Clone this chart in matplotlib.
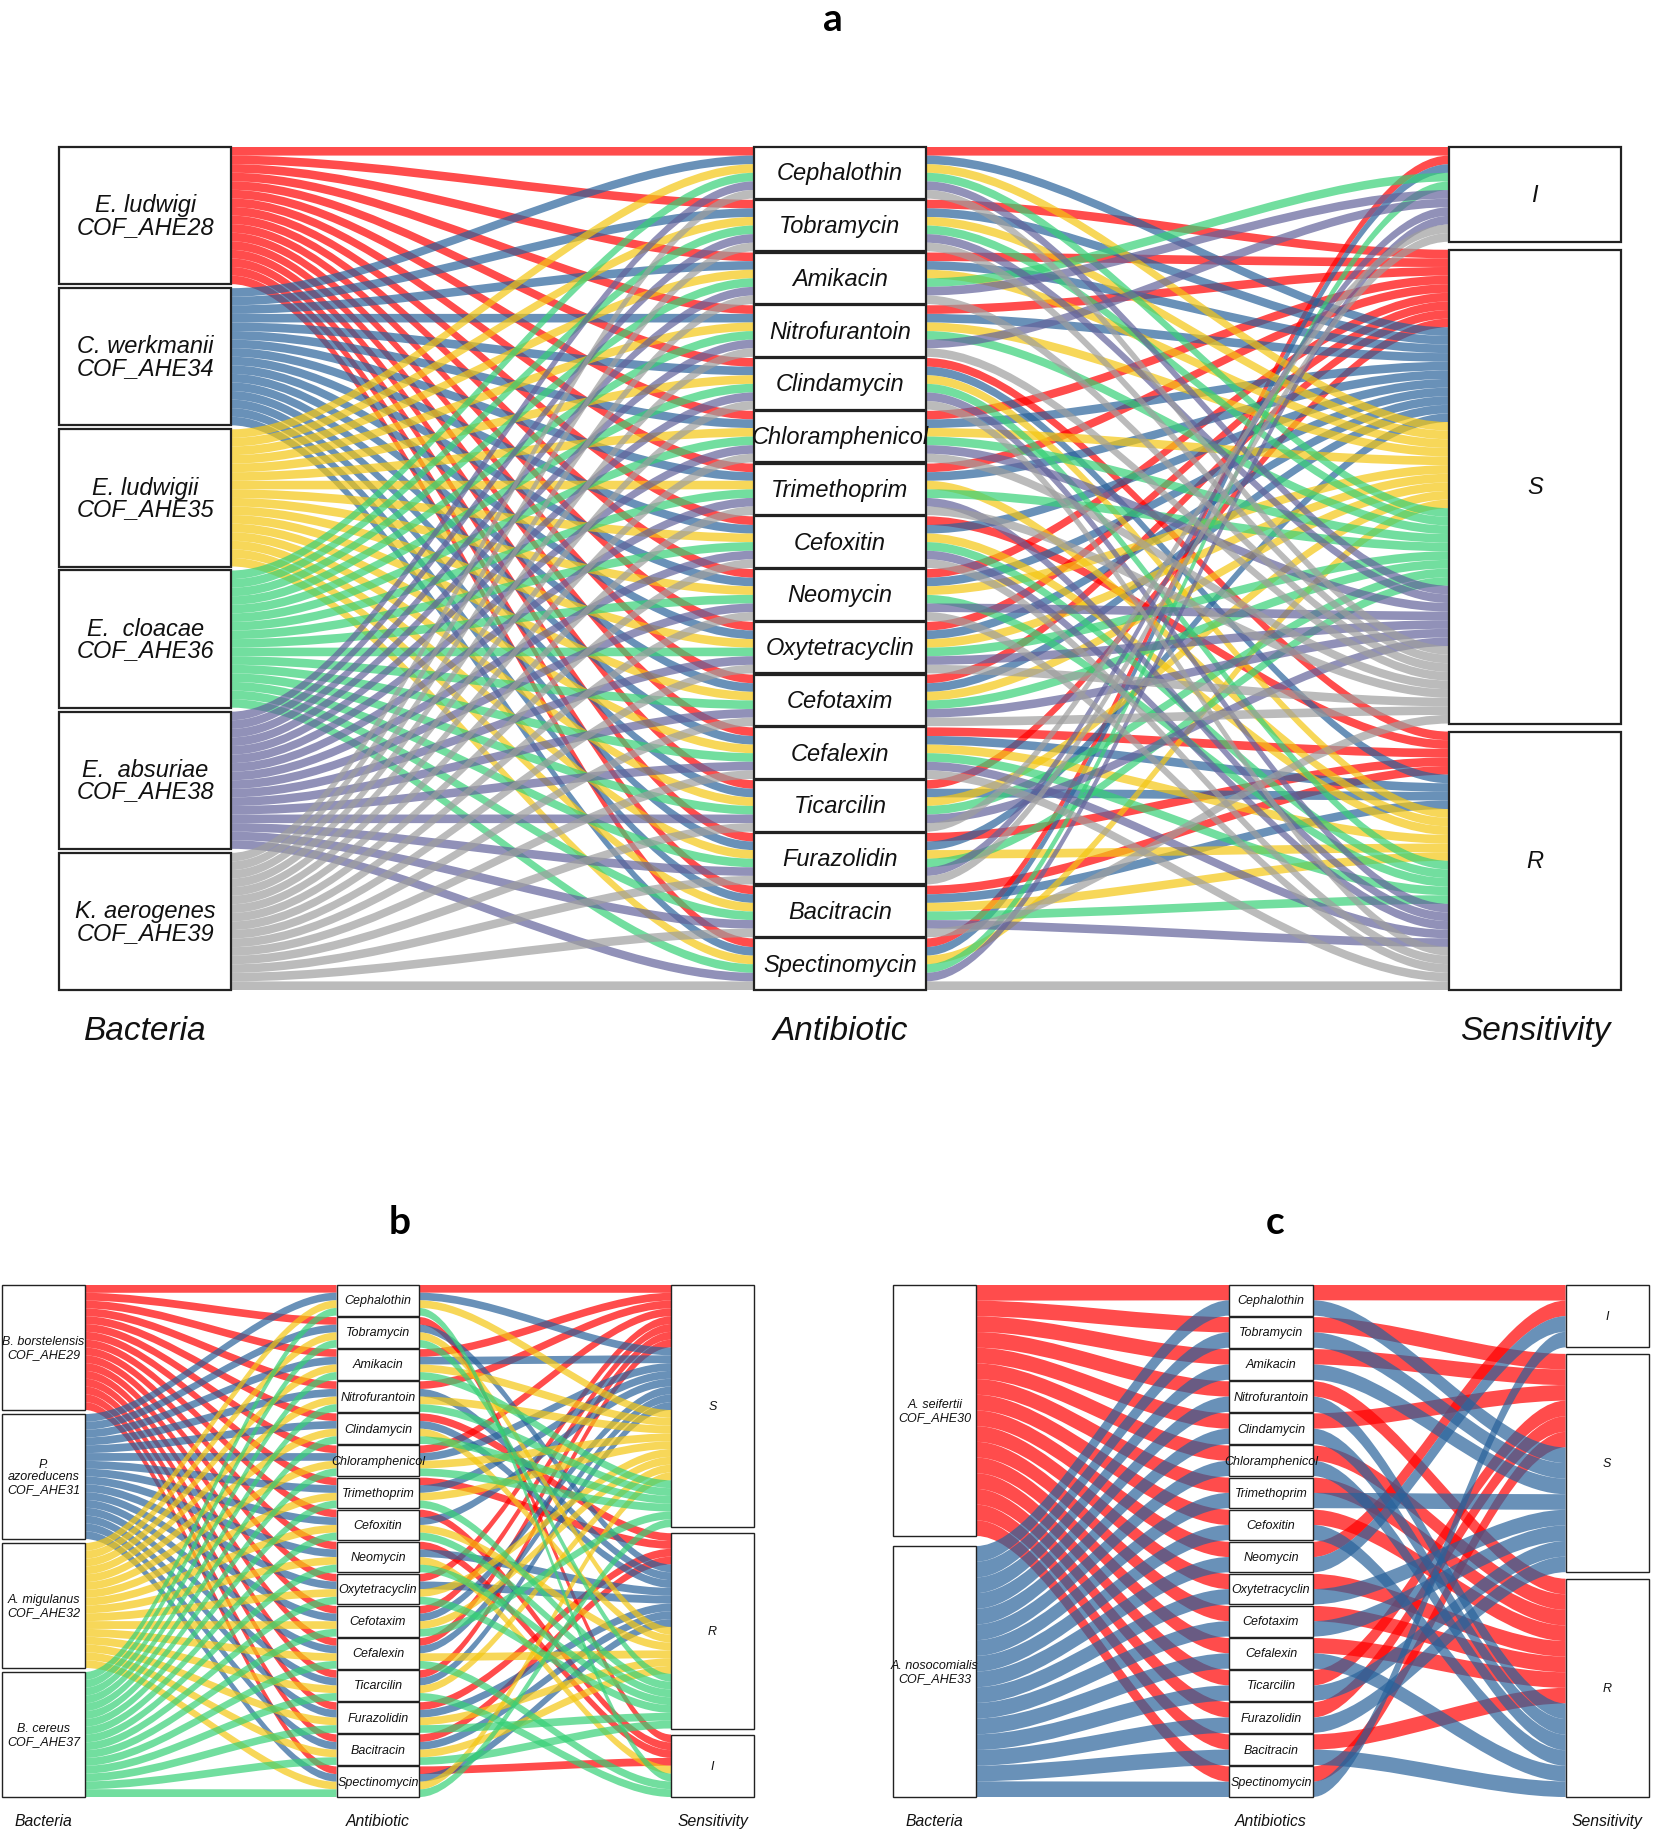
from __future__ import annotations

import matplotlib

matplotlib.use("Agg")
import matplotlib.pyplot as plt
from matplotlib.patches import PathPatch, Rectangle
from matplotlib.path import Path

FIG_W, FIG_H = 1654, 1833
KNOT = 0.3

plt.rcParams["font.family"] = ["Liberation Sans", "DejaVu Sans"]

ANTIBIOTICS = [
    "Cephalothin", "Tobramycin", "Amikacin", "Nitrofurantoin", "Clindamycin", "Chloramphenicol",
    "Trimethoprim", "Cefoxitin", "Neomycin", "Oxytetracyclin", "Cefotaxim", "Cefalexin",
    "Ticarcilin", "Furazolidin", "Bacitracin", "Spectinomycin",
]
COLORS = ["#FF0000", "#29629B", "#F4C613", "#37D077", "#62629B", "#9E9E9E"]

# one letter per antibiotic, same order as ANTIBIOTICS
BACTERIA_A = [
    "E. ludwigi\nCOF_AHE28", "C. werkmanii\nCOF_AHE34", "E. ludwigii\nCOF_AHE35",
    "E.  cloacae\nCOF_AHE36", "E.  absuriae\nCOF_AHE38", "K. aerogenes\nCOF_AHE39",
]
SENS_A = [
    "ISSSRSSRSSSRSRRI",
    "SSSSRSSSSSSRRSRI",
    "SSSSRSRRSSSRSRRS",
    "SSISRSSRRSSRSSRI",
    "SSIIRSRRSSSRSIRI",
    "SSSSRSSRRSSRIISR",
]
LEVELS_A = ["I", "S", "R"]

BACTERIA_B = [
    "B. borstelensis\nCOF_AHE29", "P.\nazoreducens\nCOF_AHE31",
    "A. migulanus\nCOF_AHE32", "B. cereus\nCOF_AHE37",
]
SENS_B = [
    "SISSRSRIISSSSRRI",
    "SRSRRSSSRRSSSRRR",
    "SRSSRSSRISSRSRRS",
    "IRSSSSRRRRSIIRRS",
]
LEVELS_B = ["S", "R", "I"]

BACTERIA_C = ["A. seifertii\nCOF_AHE30", "A. nosocomialis\nCOF_AHE33"]
SENS_C = [
    "ISSRSRRRIRRRSSRS",
    "SSSRRRSRISSRSSRI",
]
LEVELS_C = ["I", "S", "R"]


def add_panel_axes(fig, x0, x1, y0, y1):
    ax = fig.add_axes([x0 / FIG_W, 1 - y1 / FIG_H, (x1 - x0) / FIG_W, (y1 - y0) / FIG_H])
    ax.axis("off")
    return ax


def strata_tops(sizes, gap):
    # top position of each stratum and the lode height for that column
    lode = (1 - gap * (len(sizes) - 1)) / sum(sizes)
    tops, y = [], 0.0
    for size in sizes:
        tops.append(y)
        y += size * lode + gap
    return tops, lode


def draw_flow(ax, x0, x1, top0, top1, h0, h1, color):
    xa = x0 + KNOT * (x1 - x0)
    xb = x1 - KNOT * (x1 - x0)
    verts = [
        (x0, top0), (xa, top0), (xb, top1), (x1, top1),
        (x1, top1 + h1),
        (xb, top1 + h1), (xa, top0 + h0), (x0, top0 + h0),
        (x0, top0),
    ]
    codes = [Path.MOVETO, Path.CURVE4, Path.CURVE4, Path.CURVE4, Path.LINETO,
             Path.CURVE4, Path.CURVE4, Path.CURVE4, Path.CLOSEPOLY]
    ax.add_patch(PathPatch(Path(verts, codes), facecolor=color, edgecolor="none", alpha=0.7, zorder=2))


def draw_box(ax, col, top, height, width, label, fontsize, lw, spacing):
    ax.add_patch(Rectangle((col - width / 2, top), width, height, facecolor="white",
                           edgecolor="#222222", linewidth=lw, zorder=3, clip_on=False))
    ax.text(col, top + height / 2, label, ha="center", va="center", style="italic",
            fontsize=fontsize, color="#111111", zorder=4, linespacing=spacing)


def draw_alluvial(ax, bacteria, sens, levels, titles, gaps, sizes):
    width, box_lw, label_fs, title_fs, title_off, spacing = sizes
    n_bact, n_anti = len(bacteria), len(ANTIBIOTICS)
    ax.set_xlim(-width / 2, 2 + width / 2)
    ax.set_ylim(1, 0)

    level_counts = [sum(row.count(lv) for row in sens) for lv in levels]
    left_tops, left_h = strata_tops([n_anti] * n_bact, gaps[0])
    mid_tops, mid_h = strata_tops([n_bact] * n_anti, gaps[1])
    right_tops, right_h = strata_tops(level_counts, gaps[2])

    xl, xm0, xm1, xr = width / 2, 1 - width / 2, 1 + width / 2, 2 - width / 2
    right_seen = dict.fromkeys(levels, 0)
    for b, row in enumerate(sens):
        for a, level in enumerate(row):
            l_top = left_tops[b] + a * left_h
            m_top = mid_tops[a] + b * mid_h
            li = levels.index(level)
            r_top = right_tops[li] + right_seen[level] * right_h
            right_seen[level] += 1
            draw_flow(ax, xl, xm0, l_top, m_top, left_h, mid_h, COLORS[b])
            draw_flow(ax, xm1, xr, m_top, r_top, mid_h, right_h, COLORS[b])

    for b, name in enumerate(bacteria):
        draw_box(ax, 0, left_tops[b], n_anti * left_h, width, name, label_fs, box_lw, spacing)
    for a, name in enumerate(ANTIBIOTICS):
        draw_box(ax, 1, mid_tops[a], n_bact * mid_h, width, name, label_fs, box_lw, spacing)
    for i, name in enumerate(levels):
        draw_box(ax, 2, right_tops[i], level_counts[i] * right_h, width, name, label_fs, box_lw, spacing)

    for col, title in enumerate(titles):
        ax.annotate(title, xy=(col, 1), xycoords="data", xytext=(0, -title_off), textcoords="offset points",
                    ha="center", va="center", style="italic", fontsize=title_fs, color="#111111",
                    annotation_clip=False)


def main() -> None:
    fig = plt.figure(figsize=(FIG_W / 100, FIG_H / 100), dpi=100)

    ax_a = add_panel_axes(fig, 59, 1621, 148, 991)
    draw_alluvial(ax_a, BACTERIA_A, SENS_A, LEVELS_A, ["Bacteria", "Antibiotic", "Sensitivity"],
                  (4 / 845, 1.2 / 845, 8 / 845), (0.248, 1.6, 17, 24, 29.5, 0.92))

    ax_b = add_panel_axes(fig, 2, 754, 1286, 1798)
    draw_alluvial(ax_b, BACTERIA_B, SENS_B, LEVELS_B, ["Bacteria", "Antibiotic", "Sensitivity"],
                  (4 / 512, 1.5 / 512, 6 / 512), (0.248, 1.0, 9, 11.3, 17, 1.1))

    ax_c = add_panel_axes(fig, 893, 1649, 1286, 1798)
    draw_alluvial(ax_c, BACTERIA_C, SENS_C, LEVELS_C, ["Bacteria", "Antibiotics", "Sensitivity"],
                  (10 / 512, 1.5 / 512, 6.5 / 512), (0.248, 1.0, 9, 11.3, 17, 1.1))

    for label, x, y in [("a", 833, 31), ("b", 400, 1234), ("c", 1275, 1234)]:
        fig.text(x / FIG_W, 1 - y / FIG_H, label, ha="center", va="baseline", fontsize=28,
                 fontweight="bold", family="Lato", color="black")

    fig.savefig("out.png", dpi=100)
    plt.close(fig)


if __name__ == "__main__":
    main()
